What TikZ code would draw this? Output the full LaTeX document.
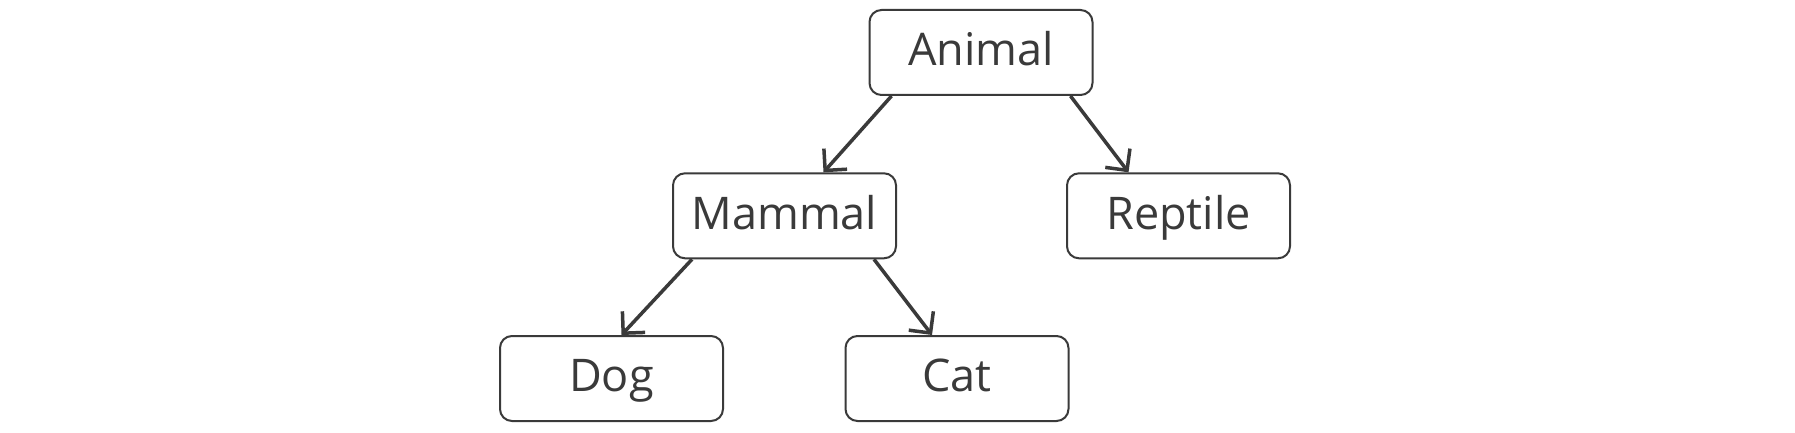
\documentclass[tikz,border=0pt]{standalone}
\usepackage{fontspec}
\setmainfont{Open Sans}
\usetikzlibrary{arrows.meta}
\definecolor{ink}{HTML}{3A3A3A}
\begin{document}
\begin{tikzpicture}[x=1pt,y=-1pt,
  box/.style={draw=ink, line width=2pt, rounded corners=12pt, minimum width=223pt, minimum height=85pt, inner sep=0pt, text height=40pt, text depth=13.6pt, text=ink, font=\fontsize{45}{54}\selectfont, fill=white},
  conn/.style={draw=ink, line width=3.5pt, -{Straight Barb[length=15.5pt,width=31pt,line width=3.5pt]}}]
\useasboundingbox[fill=white] (0,0) rectangle (1795,433);
\node[box] (animal) at (981,52.5) {Animal};
\node[box] (mammal) at (784.5,215.8) {Mammal};
\node[box] (reptile) at (1178.5,215.8) {Reptile};
\node[box] (dog) at (611.5,378.5) {Dog};
\node[box] (cat) at (957,378.5) {Cat};
\draw[conn] ([xshift=23pt]animal.south west) -- ([xshift=39pt]mammal.north);
\draw[conn] ([xshift=-23pt]animal.south east) -- ([xshift=-50pt]reptile.north);
\draw[conn] ([xshift=20pt]mammal.south west) -- ([xshift=10pt]dog.north);
\draw[conn] ([xshift=-23pt]mammal.south east) -- ([xshift=-25pt]cat.north);
\end{tikzpicture}
\end{document}
